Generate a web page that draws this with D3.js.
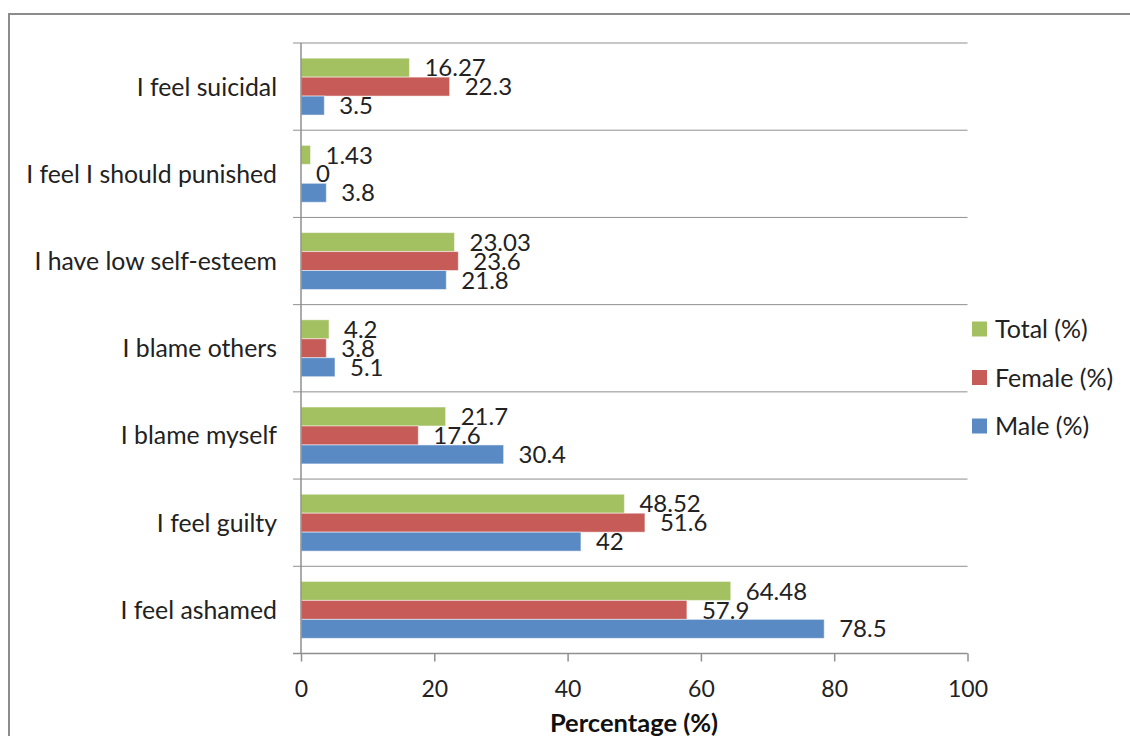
<!DOCTYPE html>
<html><head><meta charset="utf-8">
<script src="https://cdn.jsdelivr.net/npm/d3@7"></script>
<style>
html,body{margin:0;padding:0;background:#fff;}
svg{display:block;font-family:Lato, "Open Sans", sans-serif;}
</style></head>
<body><svg id="c" width="1130" height="736"></svg>
<script>
const categories = ["I feel suicidal","I feel I should punished","I have low self-esteem","I blame others","I blame myself","I feel guilty","I feel ashamed"];
const seriesNames = ["Total (%)","Female (%)","Male (%)"];
const totalVals  = [16.27, 1.43, 23.03, 4.2, 21.7, 48.52, 64.48];
const femaleVals = [22.3, 0, 23.6, 3.8, 17.6, 51.6, 57.9];
const maleVals   = [3.5, 3.8, 21.8, 5.1, 30.4, 42, 78.5];
const xTicks = [0,20,40,60,80,100];
const colors = ["#A3C161","#C65B57","#5A8AC4"];

const seriesVals = [totalVals, femaleVals, maleVals];
const svg = d3.select("#c");

svg.append("rect").attr("x",9).attr("y",14).attr("width",1200).attr("height",800)
  .attr("fill","none").attr("stroke","#8c8c8c").attr("stroke-width",2);

const pLeft = 301, pRight = 967.5, pTop = 43, pBottom = 653.5;
const x = d3.scaleLinear().domain([0,100]).range([pLeft,pRight]);
const y = d3.scaleBand().domain(categories).range([pTop,pBottom]);
const y1 = d3.scaleBand().domain(seriesNames).range([0,y.bandwidth()]).paddingOuter(0.8);

const gridColor = "#8f8f8f";
const bounds = categories.map(c=>y(c)).concat([pBottom]);
svg.append("g").selectAll("line").data(bounds).join("line")
  .attr("x1",pLeft-8).attr("x2",pRight).attr("y1",d=>d).attr("y2",d=>d)
  .attr("stroke",gridColor).attr("stroke-width",1);

const g = svg.append("g");
categories.forEach((c,i)=>{
  seriesNames.forEach((s,j)=>{
    const v = seriesVals[j][i];
    g.append("rect").attr("x",x(0)).attr("y",y(c)+y1(s))
      .attr("width",x(v)-x(0)).attr("height",y1.bandwidth())
      .attr("fill",colors[j]).attr("stroke",v>0?"#ffffff":"none").attr("stroke-opacity",0.5).attr("stroke-width",1);
    g.append("text").attr("x",x(v)+15).attr("y",y(c)+y1(s)+y1.bandwidth()/2)
      .attr("dy","0.36em").attr("font-size",24).attr("fill","#222").text(v);
  });
});

svg.append("line").attr("x1",pLeft).attr("x2",pLeft).attr("y1",pTop).attr("y2",pBottom)
  .attr("stroke",gridColor).attr("stroke-width",1.5);

const xAxis = d3.axisBottom(x).tickValues(xTicks).tickSize(8).tickPadding(19).tickFormat(d3.format("d"));
const ax = svg.append("g").attr("transform",`translate(0,${pBottom})`).call(xAxis);
ax.select(".domain").attr("stroke",gridColor).attr("stroke-width",1.5).attr("d",`M${pLeft-8},0H${pRight}`);
ax.selectAll(".tick line").attr("stroke",gridColor).attr("stroke-width",1.5);
ax.selectAll(".tick text").attr("font-size",23).attr("fill","#222").attr("font-family","Lato");

svg.append("g").selectAll("text").data(categories).join("text")
  .attr("x",277).attr("y",d=>y(d)+y.bandwidth()/2).attr("dy","0.36em")
  .attr("text-anchor","end").attr("font-size",24.8).attr("fill","#222").text(d=>d);

svg.append("text").attr("x",634).attr("y",732).attr("text-anchor","middle")
  .attr("font-size",25.5).attr("font-weight","bold").attr("fill","#111").text("Percentage (%)");

const lg = svg.append("g");
seriesNames.forEach((s,j)=>{
  const cy = 329 + j*48.5;
  lg.append("rect").attr("x",972).attr("y",cy-7.5).attr("width",15).attr("height",15).attr("fill",colors[j]);
  lg.append("text").attr("x",995).attr("y",cy).attr("dy","0.36em").attr("font-size",25).attr("fill","#222").text(s);
});
</script></body></html>
